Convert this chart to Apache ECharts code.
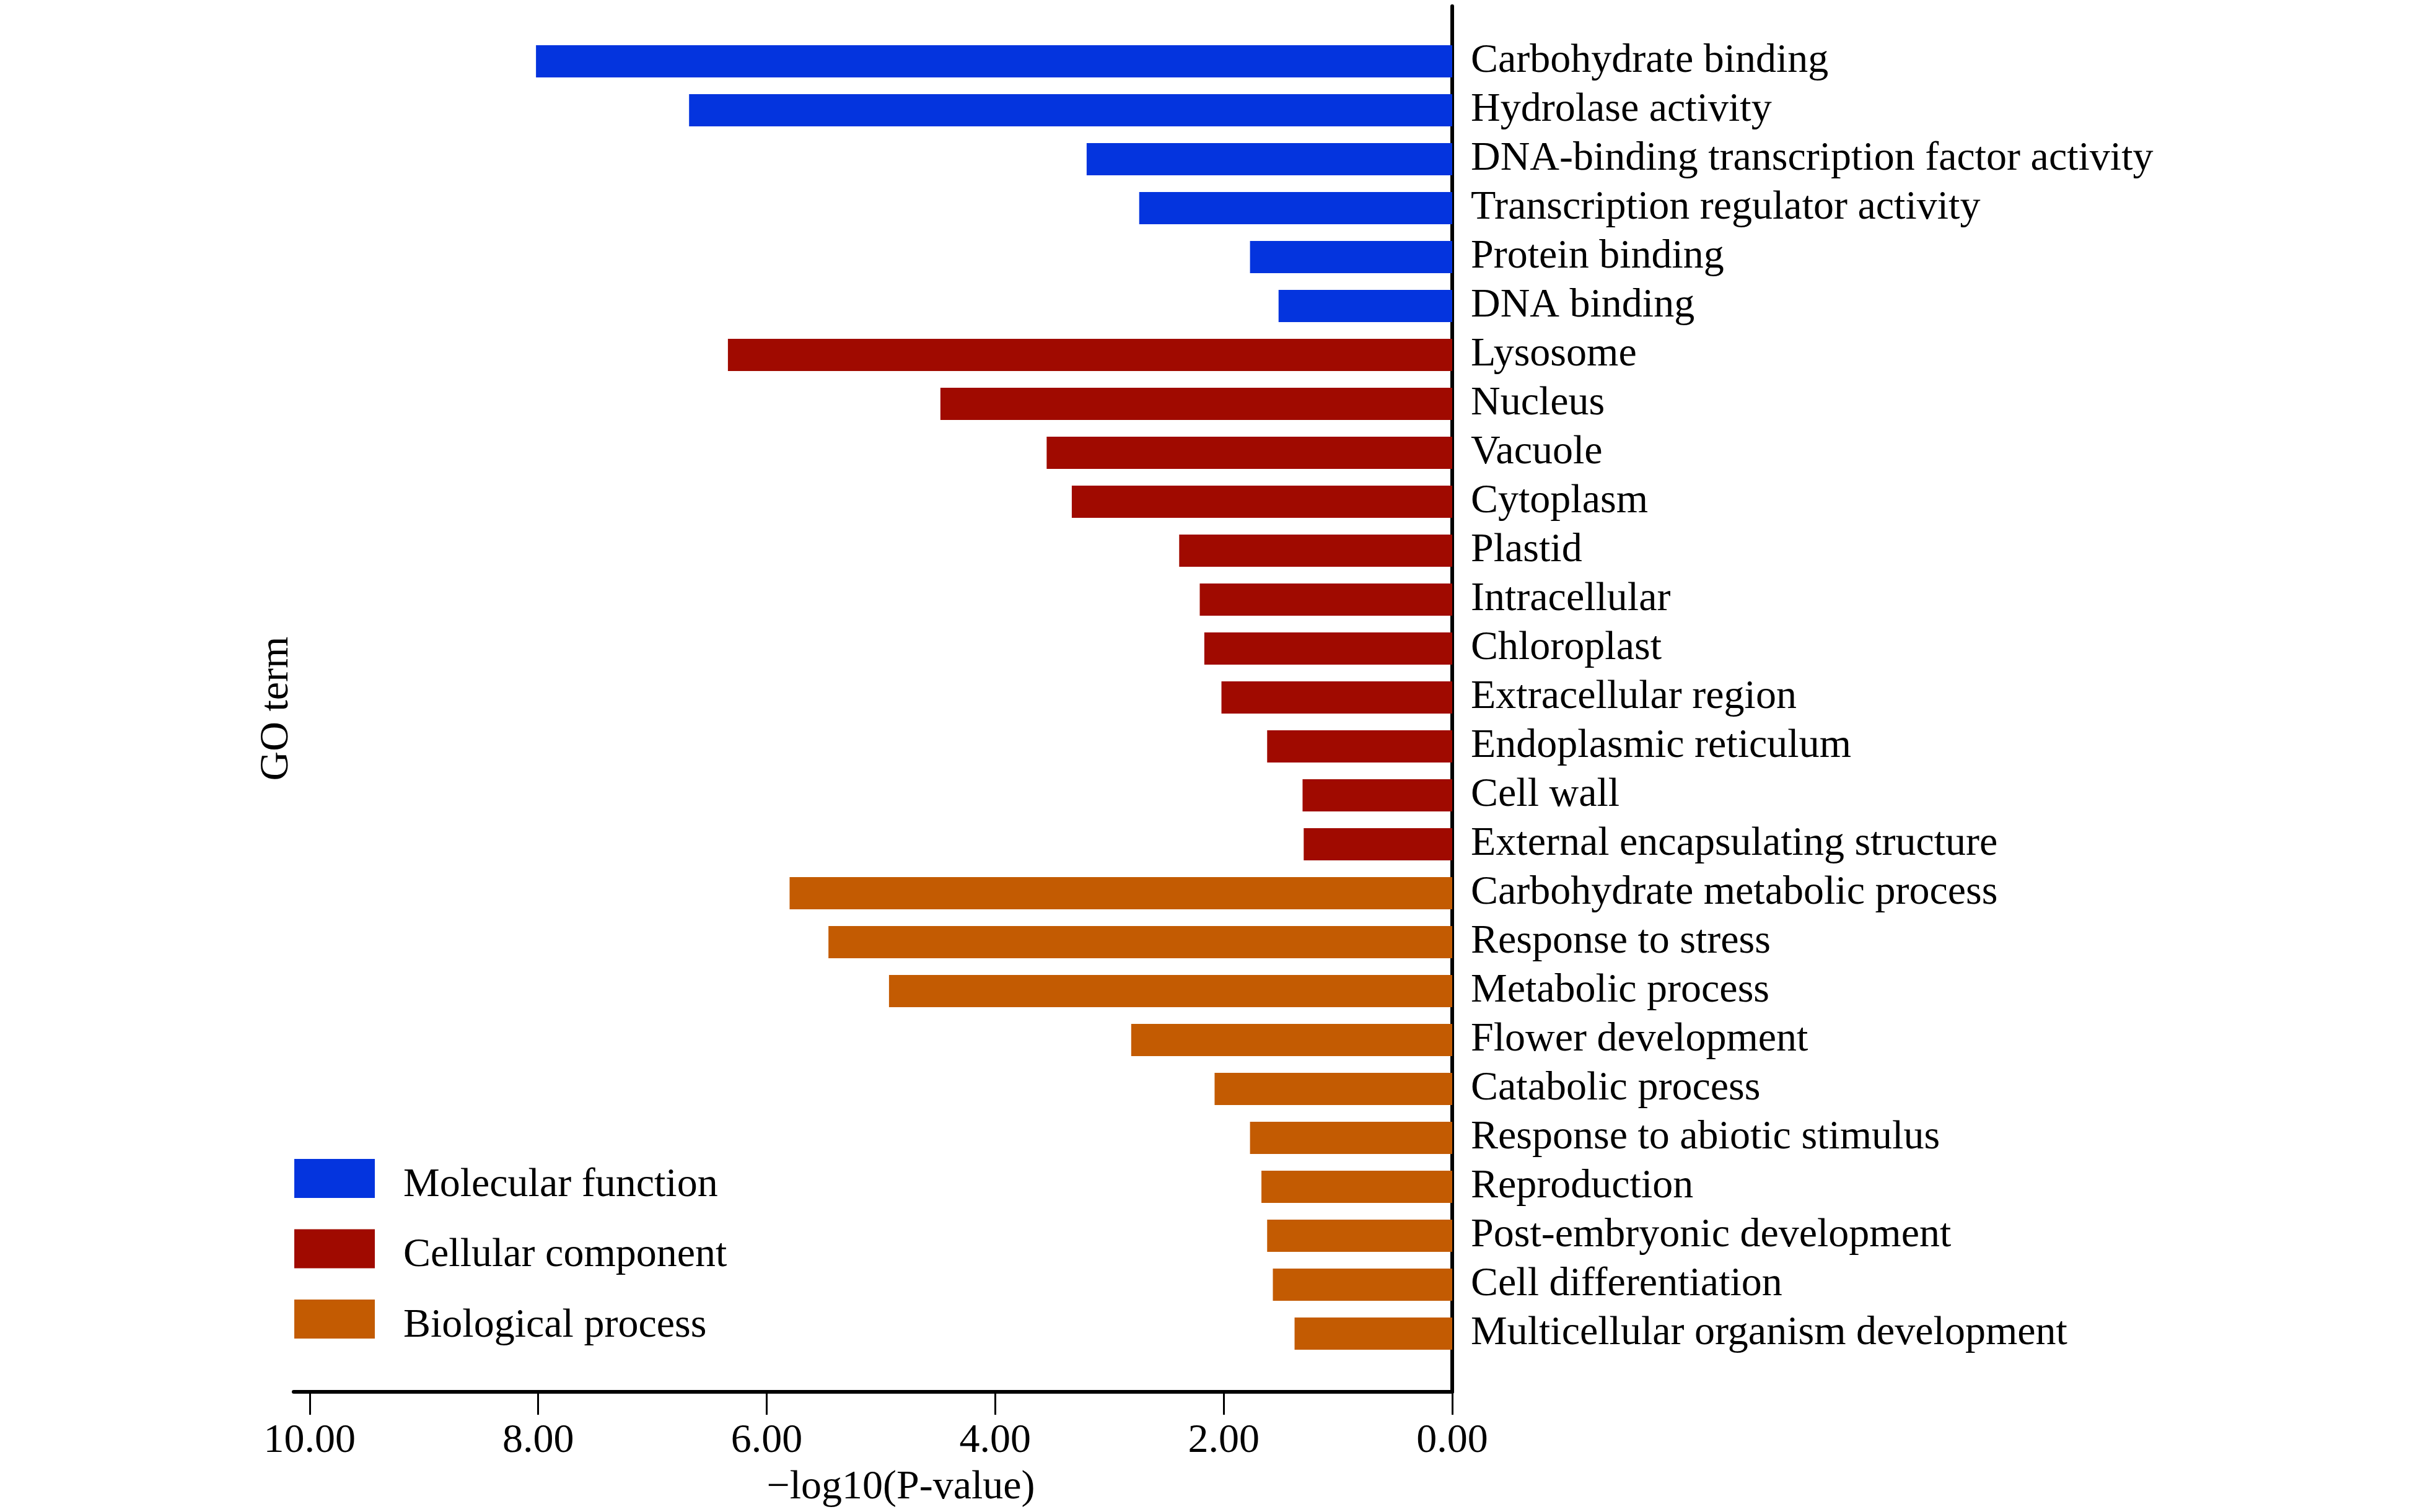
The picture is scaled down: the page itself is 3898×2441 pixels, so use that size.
<!DOCTYPE html>
<html>
<head>
<meta charset="utf-8">
<script src="https://cdn.jsdelivr.net/npm/echarts@6/dist/echarts.min.js"></script>
<style>
html,body{margin:0;padding:0;background:#fff;}
#chart{width:3898px;height:2441px;}
</style>
</head>
<body>
<div id="chart"></div>
<script>
// ---- data ----
const mfTerms = ["Carbohydrate binding","Hydrolase activity","DNA-binding transcription factor activity","Transcription regulator activity","Protein binding","DNA binding"];
const mfValues = [8.02, 6.68, 3.20, 2.74, 1.77, 1.52];
const ccTerms = ["Lysosome","Nucleus","Vacuole","Cytoplasm","Plastid","Intracellular","Chloroplast","Extracellular region","Endoplasmic reticulum","Cell wall","External encapsulating structure"];
const ccValues = [6.34, 4.48, 3.55, 3.33, 2.39, 2.21, 2.17, 2.02, 1.62, 1.31, 1.30];
const bpTerms = ["Carbohydrate metabolic process","Response to stress","Metabolic process","Flower development","Catabolic process","Response to abiotic stimulus","Reproduction","Post-embryonic development","Cell differentiation","Multicellular organism development"];
const bpValues = [5.80, 5.46, 4.93, 2.81, 2.08, 1.77, 1.67, 1.62, 1.57, 1.38];
const seriesNames = ["Molecular function","Cellular component","Biological process"];
const xTickValues = [0, 2, 4, 6, 8, 10];
const xAxisTitle = "\u2212log10(P-value)";
const yAxisTitle = "GO term";

// ---- build ----
const categories = mfTerms.concat(ccTerms, bpTerms);
function padded(vals, before, after) {
  const out = [];
  for (let i = 0; i < before; i++) out.push('-');
  vals.forEach(v => out.push(v));
  for (let i = 0; i < after; i++) out.push('-');
  return out;
}
const total = categories.length;
const mfData = padded(mfValues, 0, total - mfValues.length);
const ccData = padded(ccValues, mfValues.length, total - mfValues.length - ccValues.length);
const bpData = padded(bpValues, mfValues.length + ccValues.length, 0);
const colors = ['#0434DE', '#A00A00', '#C35B02'];
const FONT = 'Liberation Serif';

const chart = echarts.init(document.getElementById('chart'), null, {renderer: 'canvas'});
const option = {
  backgroundColor: '#ffffff',
  animation: false,
  textStyle: {fontFamily: FONT},
  legend: {
    orient: 'vertical',
    left: 470,
    top: 1866,
    itemWidth: 130,
    itemHeight: 63,
    itemGap: 38,
    icon: 'rect',
    data: seriesNames,
    formatter: name => '{t|' + name + '}',
    textStyle: {fontFamily: FONT, fontSize: 66, color: '#000', padding: [0, 0, 0, 41],
      rich: {t: {fontFamily: FONT, fontSize: 66, color: '#000', padding: [22, 0, 0, 0]}}}
  },
  grid: [
    {left: 500, right: 1554, top: 59.5, bottom: 248.5, containLabel: false},
    {left: 474, right: 1554, top: 10, bottom: 194, containLabel: false}
  ],
  xAxis: [
    {gridIndex: 0, type: 'value', min: 0, max: 10, inverse: true, show: false},
    {gridIndex: 1, type: 'value', min: 0, max: 10.14, inverse: true,
     axisLine: {show: true, lineStyle: {color: '#000', width: 6}},
     axisTick: {show: true, length: 37, lineStyle: {color: '#000', width: 3}, customValues: xTickValues},
     axisLabel: {show: true, customValues: xTickValues, margin: 47, fontFamily: FONT, fontSize: 66, color: '#000',
                 formatter: v => Number(v).toFixed(2)},
     splitLine: {show: false},
     name: xAxisTitle, nameLocation: 'middle', nameGap: 122,
     nameTextStyle: {fontFamily: FONT, fontSize: 66, color: '#000', padding: [0, 0, 0, 90]}
    }
  ],
  yAxis: [
    {gridIndex: 0, type: 'category', data: categories, inverse: true, position: 'right',
     axisLine: {show: false}, axisTick: {show: false},
     axisLabel: {interval: 0, hideOverlap: false, margin: 30, fontFamily: FONT, fontSize: 66, color: '#000'}},
    {gridIndex: 1, type: 'value', min: 0, max: 1, position: 'right',
     axisLine: {show: true, onZero: false, lineStyle: {color: '#000', width: 6}},
     axisTick: {show: false}, axisLabel: {show: false}, splitLine: {show: false}}
  ],
  series: [
    {name: seriesNames[0], type: 'bar', stack: 'go', xAxisIndex: 0, yAxisIndex: 0, barWidth: '66%', data: mfData, itemStyle: {color: colors[0]}},
    {name: seriesNames[1], type: 'bar', stack: 'go', xAxisIndex: 0, yAxisIndex: 0, barWidth: '66%', data: ccData, itemStyle: {color: colors[1]}},
    {name: seriesNames[2], type: 'bar', stack: 'go', xAxisIndex: 0, yAxisIndex: 0, barWidth: '66%', data: bpData, itemStyle: {color: colors[2]}}
  ],
  graphic: [
    {type: 'text', x: 447, y: 1144, rotation: Math.PI / 2,
     style: {text: yAxisTitle, fontFamily: FONT, fontSize: 66, fill: '#000', align: 'center', verticalAlign: 'middle'}}
  ]
};
chart.setOption(option);
</script>
</body>
</html>
